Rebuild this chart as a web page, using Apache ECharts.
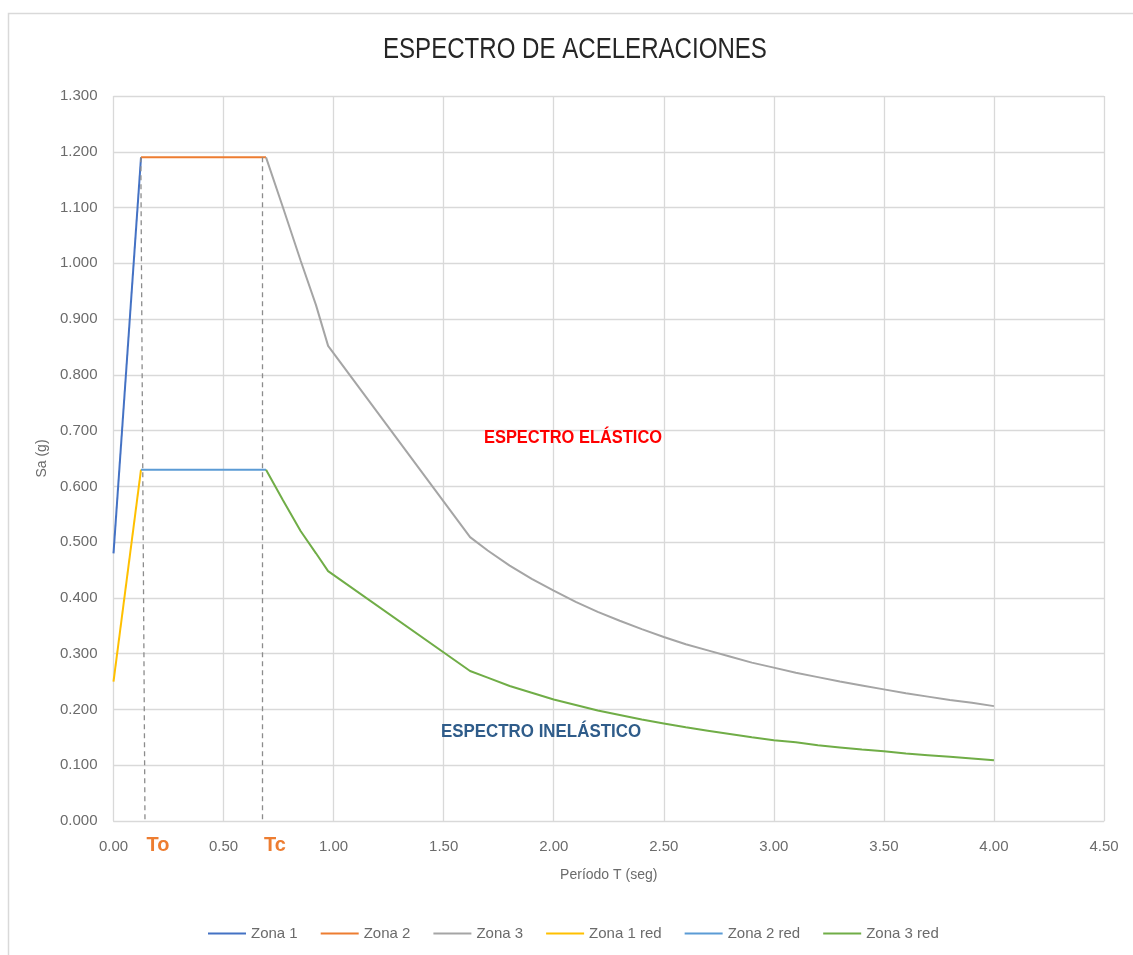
<!DOCTYPE html>
<html>
<head>
<meta charset="utf-8">
<title>Espectro de aceleraciones</title>
<script src="https://cdn.jsdelivr.net/npm/echarts@6/dist/echarts.min.js"></script>
<style>
  html, body { margin: 0; padding: 0; background: #ffffff; }
  #chart { width: 1133px; height: 955px; }
</style>
</head>
<body>
<div id="chart"></div>
<script>
// Períodos (s) y aceleraciones espectrales Sa (g)
const seriesNames = ['Zona 1', 'Zona 2', 'Zona 3', 'Zona 1 red', 'Zona 2 red', 'Zona 3 red'];
const seriesColors = ['#4472C4', '#ED7D31', '#A5A5A5', '#FFC000', '#5B9BD5', '#70AD47'];

// Ramas de ascenso y meseta (T, Sa)
const zona1 = [[0, 0.48], [0.125, 1.19]];
const zona2 = [[0.125, 1.19], [0.693, 1.19]];
const zona1Red = [[0, 0.25], [0.125, 0.63]];
const zona2Red = [[0.125, 0.63], [0.693, 0.63]];

// Rama descendente
const periodos = [0.693, 0.77, 0.85, 0.92, 0.975, 1.62, 1.70, 1.80, 1.90, 2.00, 2.10, 2.20, 2.30, 2.40,
  2.50, 2.60, 2.70, 2.80, 2.90, 3.00, 3.10, 3.20, 3.30, 3.40, 3.50, 3.60, 3.70, 3.80, 3.90, 4.00];
const saElastico = [1.19, 1.10, 1.005, 0.925, 0.852, 0.509, 0.485, 0.458, 0.434, 0.413, 0.393, 0.375, 0.359, 0.344,
  0.330, 0.317, 0.306, 0.295, 0.284, 0.275, 0.266, 0.258, 0.250, 0.243, 0.236, 0.229, 0.223, 0.217, 0.212, 0.206];
const saInelastico = [0.63, 0.575, 0.52, 0.48, 0.448, 0.269, 0.257, 0.242, 0.230, 0.218, 0.208, 0.198, 0.190, 0.182,
  0.175, 0.168, 0.162, 0.156, 0.150, 0.145, 0.141, 0.136, 0.132, 0.128, 0.125, 0.121, 0.118, 0.115, 0.112, 0.109];

// Periodos límite To y Tc (líneas de referencia)
const limites = [
  { name: 'To', top: [0.124, 1.19], bottom: [0.143, 0] },
  { name: 'Tc', top: [0.674, 1.19], bottom: [0.674, 0] }
];

const zona3 = periodos.map((t, i) => [t, saElastico[i]]);
const zona3Red = periodos.map((t, i) => [t, saInelastico[i]]);
const datos = [zona1, zona2, zona3, zona1Red, zona2Red, zona3Red];

const chart = echarts.init(document.getElementById('chart'), null, { renderer: 'canvas' });

const axisFont = "'Liberation Sans', Arial, sans-serif";
const labelGray = '#6b6b6b';
const gridGray = '#D9D9D9';

const series = datos.map((d, i) => ({
  name: seriesNames[i],
  type: 'line',
  data: d,
  showSymbol: false,
  symbol: 'none',
  z: 3 + i,
  lineStyle: { color: seriesColors[i], width: 2 },
  itemStyle: { color: seriesColors[i] },
  emphasis: { disabled: true }
}));

// Líneas discontinuas To / Tc
series.push({
  name: 'limites',
  type: 'line',
  data: [],
  silent: true,
  markLine: {
    symbol: ['none', 'none'],
    silent: true,
    animation: false,
    label: { show: false },
    lineStyle: { color: '#8c8c8c', type: [5, 4], width: 1.3 },
    data: limites.map(l => [{ coord: l.top }, { coord: l.bottom }])
  }
});

chart.setOption({
  animation: false,
  backgroundColor: '#ffffff',
  legend: {
    data: seriesNames,
    left: 203,
    top: 921,
    itemWidth: 38,
    itemHeight: 10,
    itemGap: 23,
    icon: 'path://M0,4 L38,4 L38,6 L0,6 Z',
    textStyle: { fontFamily: axisFont, fontSize: 15, color: labelGray }
  },
  grid: { left: 113.5, right: 29, top: 96, bottom: 134, containLabel: false },
  xAxis: {
    type: 'value',
    min: 0,
    max: 4.5,
    interval: 0.5,
    name: 'Período T (seg)',
    nameLocation: 'middle',
    nameGap: 47,
    nameTextStyle: { fontFamily: axisFont, fontSize: 14, color: labelGray },
    axisLine: { show: true, lineStyle: { color: gridGray, width: 1 } },
    axisTick: { show: false },
    axisLabel: {
      fontFamily: axisFont, fontSize: 15, color: labelGray, margin: 18,
      formatter: v => v.toFixed(2)
    },
    splitLine: { show: true, lineStyle: { color: gridGray, width: 1.3 } }
  },
  yAxis: {
    type: 'value',
    min: 0,
    max: 1.3,
    interval: 0.1,
    name: 'Sa (g)',
    nameLocation: 'middle',
    nameGap: 63,
    nameTextStyle: { fontFamily: axisFont, fontSize: 14, color: labelGray },
    axisLine: { show: false },
    axisTick: { show: false },
    axisLabel: {
      fontFamily: axisFont, fontSize: 15, color: labelGray, margin: 16,
      formatter: v => v.toFixed(3)
    },
    splitLine: { show: true, lineStyle: { color: gridGray, width: 1.3 } }
  },
  series: series
});

// Rótulos, título condensado y marco del gráfico
function rotuloLimite(l) {
  const p = chart.convertToPixel({ gridIndex: 0 }, l.bottom);
  return {
    type: 'text',
    x: p[0] + 13,
    y: p[1] + 24,
    scaleX: 0.95,
    style: {
      text: l.name,
      fill: '#ED7D31',
      font: "bold 21px 'Liberation Sans', Arial, sans-serif",
      textAlign: 'center',
      textVerticalAlign: 'middle'
    }
  };
}

function rotulo(text, x, y, color, scaleX) {
  return {
    type: 'text',
    x: x,
    y: y,
    scaleX: scaleX,
    style: {
      text: text,
      fill: color,
      font: "bold 19px 'Liberation Sans', Arial, sans-serif",
      textAlign: 'center',
      textVerticalAlign: 'middle'
    }
  };
}

chart.setOption({
  graphic: [
    {
      type: 'rect',
      silent: true,
      z: -10,
      shape: { x: 8.5, y: 13.5, width: 1140, height: 960 },
      style: { fill: 'none', stroke: '#D9D9D9', lineWidth: 1.5 }
    },
    {
      type: 'text',
      x: 383,
      y: 50,
      scaleX: 0.83,
      style: {
        text: 'ESPECTRO DE ACELERACIONES',
        fill: '#262626',
        font: "29px 'Liberation Sans', Arial, sans-serif",
        textAlign: 'left',
        textVerticalAlign: 'middle'
      }
    },
    rotulo('ESPECTRO ELÁSTICO', 573, 438, '#FF0000', 0.865),
    rotulo('ESPECTRO INELÁSTICO', 541, 732, '#2F5C8A', 0.89),
    rotuloLimite(limites[0]),
    rotuloLimite(limites[1])
  ]
});
</script>
</body>
</html>
